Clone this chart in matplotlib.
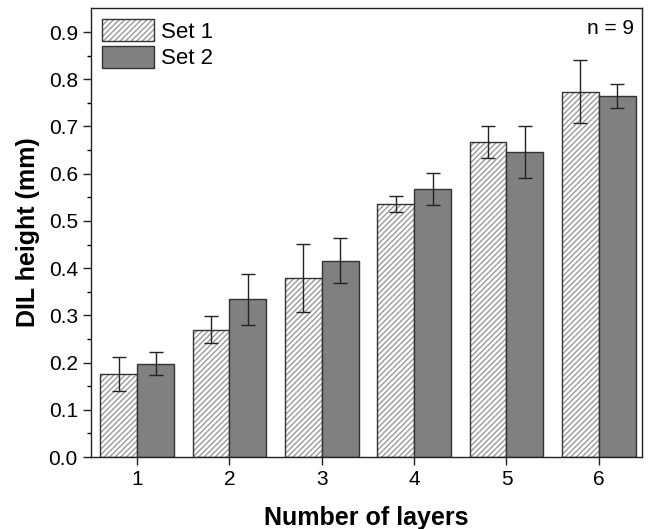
import matplotlib.pyplot as plt
from matplotlib.legend_handler import HandlerTuple
from matplotlib.patches import Patch
import numpy as np

plt.rcParams['font.family'] = ['Liberation Sans', 'DejaVu Sans']

# DIL height per number of layers (mean and error)
layers = [1, 2, 3, 4, 5, 6]
set1_mean = [0.175, 0.270, 0.379, 0.536, 0.668, 0.774]
set1_err = [0.036, 0.028, 0.072, 0.017, 0.034, 0.066]
set2_mean = [0.198, 0.334, 0.416, 0.568, 0.645, 0.765]
set2_err = [0.025, 0.054, 0.048, 0.034, 0.055, 0.025]

fig = plt.figure(figsize=(6.5, 5.29), dpi=100)
ax = fig.add_axes([0.14, 0.136, 0.848, 0.849])

x = np.array(layers)
w = 0.4
hatch_col = '#9a9a9a'
edge_col = '#333333'
fill2 = '#808080'

# hatched bars for set 1 (hatch drawn in grey, outline drawn on top)
ax.bar(x - w / 2, set1_mean, w, color='white', edgecolor=hatch_col, hatch='//////', linewidth=0)
ax.bar(x - w / 2, set1_mean, w, fill=False, edgecolor=edge_col, linewidth=1.0)
ax.bar(x + w / 2, set2_mean, w, color=fill2, edgecolor=edge_col, linewidth=1.0)

ax.errorbar(x - w / 2, set1_mean, yerr=set1_err, fmt='none', ecolor='#222222',
            elinewidth=1.0, capsize=5, capthick=1.0)
ax.errorbar(x + w / 2, set2_mean, yerr=set2_err, fmt='none', ecolor='#222222',
            elinewidth=1.0, capsize=5, capthick=1.0)

ax.set_xlim(0.5, 6.47)
ax.set_ylim(0, 0.951)
ax.set_xticks(layers)
ax.set_yticks(np.arange(0, 0.91, 0.1))
ax.set_yticks(np.arange(0.05, 0.95, 0.1), minor=True)
ax.yaxis.set_major_formatter(plt.FormatStrFormatter('%.1f'))
ax.tick_params(axis='both', labelsize=15, direction='out', length=6, width=1, colors='#222222')
ax.tick_params(axis='y', which='minor', length=3, width=1)
ax.tick_params(labelcolor='black')
for s in ax.spines.values():
    s.set_linewidth(1.0)
    s.set_color('#222222')

ax.set_xlabel('Number of layers', fontsize=18, fontweight='bold', labelpad=12)
ax.set_ylabel('DIL height (mm)', fontsize=18, fontweight='bold', labelpad=6)

h1a = Patch(facecolor='white', edgecolor=hatch_col, hatch='//////', linewidth=0)
h1b = Patch(fill=False, edgecolor=edge_col, linewidth=1.0)
h2 = Patch(facecolor=fill2, edgecolor=edge_col, linewidth=1.0)
ax.legend([(h1a, h1b), h2], ['Set 1', 'Set 2'],
          handler_map={tuple: HandlerTuple(ndivide=1, pad=0)},
          loc='upper left', bbox_to_anchor=(0.0, 1.0), frameon=False, fontsize=16,
          handlelength=2.35, handleheight=1.15, handletextpad=0.3, labelspacing=0.15,
          borderaxespad=0.25, borderpad=0.25)

ax.text(0.985, 0.975, 'n = 9', transform=ax.transAxes, ha='right', va='top', fontsize=15)

fig.savefig('out.png', dpi=100)
